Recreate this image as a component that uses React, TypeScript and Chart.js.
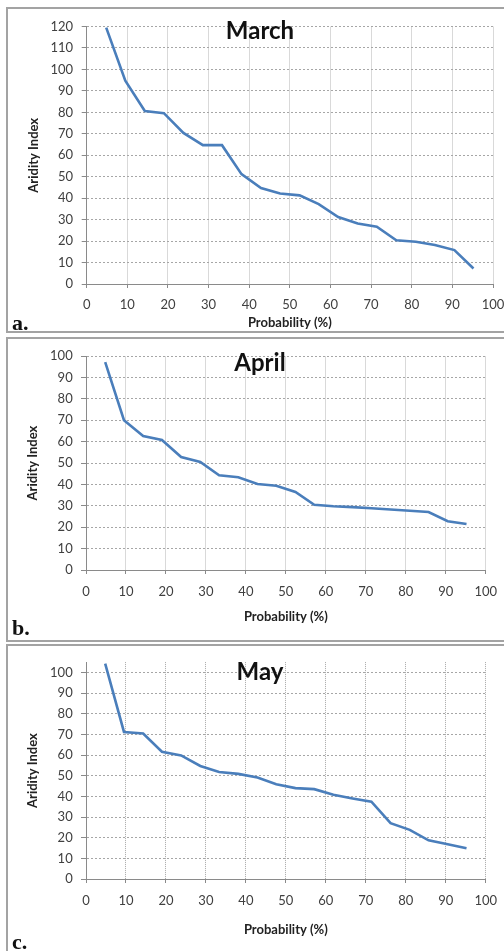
import React, { useEffect, useRef } from "react";
import { Chart, registerables } from "chart.js";

Chart.register(...registerables);

// ---- data ----
const probability = [4.8, 9.5, 14.3, 19.0, 23.8, 28.6, 33.3, 38.1, 42.9, 47.6, 52.4, 57.1, 61.9, 66.7, 71.4, 76.2, 81.0, 85.7, 90.5, 95.2];
const marchIndex = [119.5, 94.7, 80.6, 79.6, 70.4, 64.7, 64.7, 51.2, 44.7, 42.2, 41.3, 37.2, 31.2, 28.2, 26.7, 20.4, 19.7, 18.2, 15.8, 7.2];
const aprilIndex = [97.2, 70.0, 62.6, 60.8, 52.8, 50.5, 44.3, 43.4, 40.2, 39.4, 36.5, 30.5, 29.8, 29.4, 28.9, 28.3, 27.7, 27.1, 22.8, 21.5];
const mayIndex = [104.3, 71.2, 70.4, 61.6, 59.8, 54.7, 51.8, 50.9, 49.1, 45.9, 44.0, 43.5, 40.8, 39.0, 37.4, 27.0, 23.8, 18.7, 16.8, 14.9];
const monthTitles = ["March", "April", "May"];
const panelLetters = ["a.", "b.", "c."];
const yAxisMax = [120, 100, 105];
const yTicksMarch = [0, 10, 20, 30, 40, 50, 60, 70, 80, 90, 100, 110, 120];
const yTicksApril = [0, 10, 20, 30, 40, 50, 60, 70, 80, 90, 100];
const yTicksMay = [0, 10, 20, 30, 40, 50, 60, 70, 80, 90, 100];
const yTickSets = [yTicksMarch, yTicksApril, yTicksMay];
const xTicks = [0, 10, 20, 30, 40, 50, 60, 70, 80, 90, 100];
const xAxisTitle = "Probability (%)";
const yAxisTitle = "Aridity Index";

// ---- layout (page coordinates) ----
type Layout = {
  boxTop: number; boxHeight: number;
  canvasTop: number; canvasHeight: number;
  chartLeft: number; chartRight: number; chartTop: number; chartBottom: number;
  xTickCenter: number; yTickPad: number; yTitleX: number; xTitleY: number;
  titleTop: number; letterTop: number; dottedX: boolean;
};

const CANVAS_LEFT = 9;
const CANVAS_WIDTH = 520;
const TICK_SIZE = 13;
const TITLE_SIZE = 13;

const layouts: Layout[] = [
  { boxTop: 7, boxHeight: 326, canvasTop: 10, canvasHeight: 321, chartLeft: 86.7, chartRight: 493, chartTop: 18, chartBottom: 284,
    xTickCenter: 305, yTickPad: 8.7, yTitleX: 34, xTitleY: 323, titleTop: 18, letterTop: 311.6, dottedX: false },
  { boxTop: 337, boxHeight: 305, canvasTop: 340, canvasHeight: 299, chartLeft: 86, chartRight: 485.7, chartTop: 353.3, chartBottom: 570,
    xTickCenter: 591.7, yTickPad: 8.3, yTitleX: 33.3, xTitleY: 616.7, titleTop: 349.7, letterTop: 616.6, dottedX: false },
  { boxTop: 644, boxHeight: 400, canvasTop: 646, canvasHeight: 305, chartLeft: 86, chartRight: 485.7, chartTop: 660.7, chartBottom: 879,
    xTickCenter: 901, yTickPad: 8.3, yTitleX: 33.3, xTitleY: 930, titleTop: 659.4, letterTop: 930.6, dottedX: true },
];

const FONT = "Lato, 'Open Sans', sans-serif";

function Panel({ idx, values }: { idx: number; values: number[] }) {
  const ref = useRef<HTMLCanvasElement | null>(null);
  const L = layouts[idx];
  useEffect(() => {
    if (!ref.current) return;
    const titleHalf = TITLE_SIZE * 1.2 / 2;
    const tickHalf = TICK_SIZE * 1.2 / 2;
    const canvasBottom = L.canvasTop + L.canvasHeight;
    const yTicks = yTickSets[idx];
    const chart = new Chart(ref.current, {
      type: "line",
      data: {
        datasets: [{
          data: probability.map((x, i) => ({ x, y: values[i] })),
          borderColor: "#4a7ebb",
          borderWidth: 2.6,
          pointRadius: 0,
          tension: 0,
          fill: false,
        }],
      },
      options: {
        animation: false,
        responsive: false,
        devicePixelRatio: 1,
        layout: {
          padding: {
            left: 0,
            top: L.chartTop - L.canvasTop,
            right: CANVAS_LEFT + CANVAS_WIDTH - L.chartRight,
            bottom: 0,
          },
        },
        plugins: { legend: { display: false }, tooltip: { enabled: false }, title: { display: false } },
        scales: {
          x: {
            type: "linear",
            min: 0,
            max: 100,
            afterFit: (s: any) => { s.height = canvasBottom - L.chartBottom; },
            afterBuildTicks: (s: any) => { s.ticks = xTicks.map((v) => ({ value: v })); },
            ticks: { stepSize: 10, color: "#404040", font: { family: FONT, size: TICK_SIZE }, padding: L.xTickCenter - L.chartBottom - 4 - tickHalf, maxRotation: 0, autoSkip: false },
            grid: {
              color: L.dottedX ? "#a8a8a8" : "#d9d9d9",
              lineWidth: 1,
              tickLength: 4,
              tickColor: "#8a8a8a",
            },
            border: { color: "#8a8a8a", width: 1, dash: L.dottedX ? [1, 1] : [] },
            title: {
              display: true,
              text: xAxisTitle,
              color: "#222",
              font: { family: FONT, size: TITLE_SIZE, weight: "bold" },
              padding: { top: 0, bottom: Math.max(0, canvasBottom - L.xTitleY - titleHalf) },
            },
          },
          y: {
            type: "linear",
            min: 0,
            max: yAxisMax[idx],
            afterFit: (s: any) => { s.width = L.chartLeft - CANVAS_LEFT; },
            afterBuildTicks: (s: any) => { s.ticks = yTicks.map((v) => ({ value: v })); },
            ticks: { stepSize: 10, color: "#404040", font: { family: FONT, size: TICK_SIZE }, padding: L.yTickPad, autoSkip: false },
            grid: {
              color: "#a6a6a6",
              lineWidth: 1,
              tickLength: 5,
              tickColor: "#8a8a8a",
            },
            border: { color: "#8a8a8a", width: 1, dash: [2, 2] },
            title: {
              display: true,
              text: yAxisTitle,
              color: "#222",
              font: { family: FONT, size: TITLE_SIZE, weight: "bold" },
              padding: { top: L.yTitleX - CANVAS_LEFT - titleHalf, bottom: 0 },
            },
          },
        },
      },
    } as any);
    return () => chart.destroy();
  }, [idx, values]);

  return (
    <>
      <div style={{
        position: "absolute", left: 6, top: L.boxTop, width: 520, height: L.boxHeight,
        boxSizing: "border-box", border: "2px solid #a3a3a3",
      }} />
      <canvas ref={ref} width={CANVAS_WIDTH} height={L.canvasHeight}
        style={{ position: "absolute", left: CANVAS_LEFT, top: L.canvasTop, width: CANVAS_WIDTH, height: L.canvasHeight }} />
      <div style={{
        position: "absolute", left: 160, width: 200, top: L.titleTop, textAlign: "center",
        fontFamily: FONT, fontWeight: 700, fontSize: 24, lineHeight: "24px", color: "#111",
      }}>{monthTitles[idx]}</div>
      <div style={{
        position: "absolute", left: 12, top: L.letterTop,
        fontFamily: "'Liberation Serif', 'Times New Roman', serif", fontWeight: 700, fontSize: 22, lineHeight: "22px", color: "#111",
      }}>{panelLetters[idx]}</div>
    </>
  );
}

export default function App() {
  return (
    <div style={{ position: "absolute", left: 0, top: 0, width: 504, height: 951, overflow: "hidden", background: "#fff" }}>
      <Panel idx={0} values={marchIndex} />
      <Panel idx={1} values={aprilIndex} />
      <Panel idx={2} values={mayIndex} />
    </div>
  );
}
